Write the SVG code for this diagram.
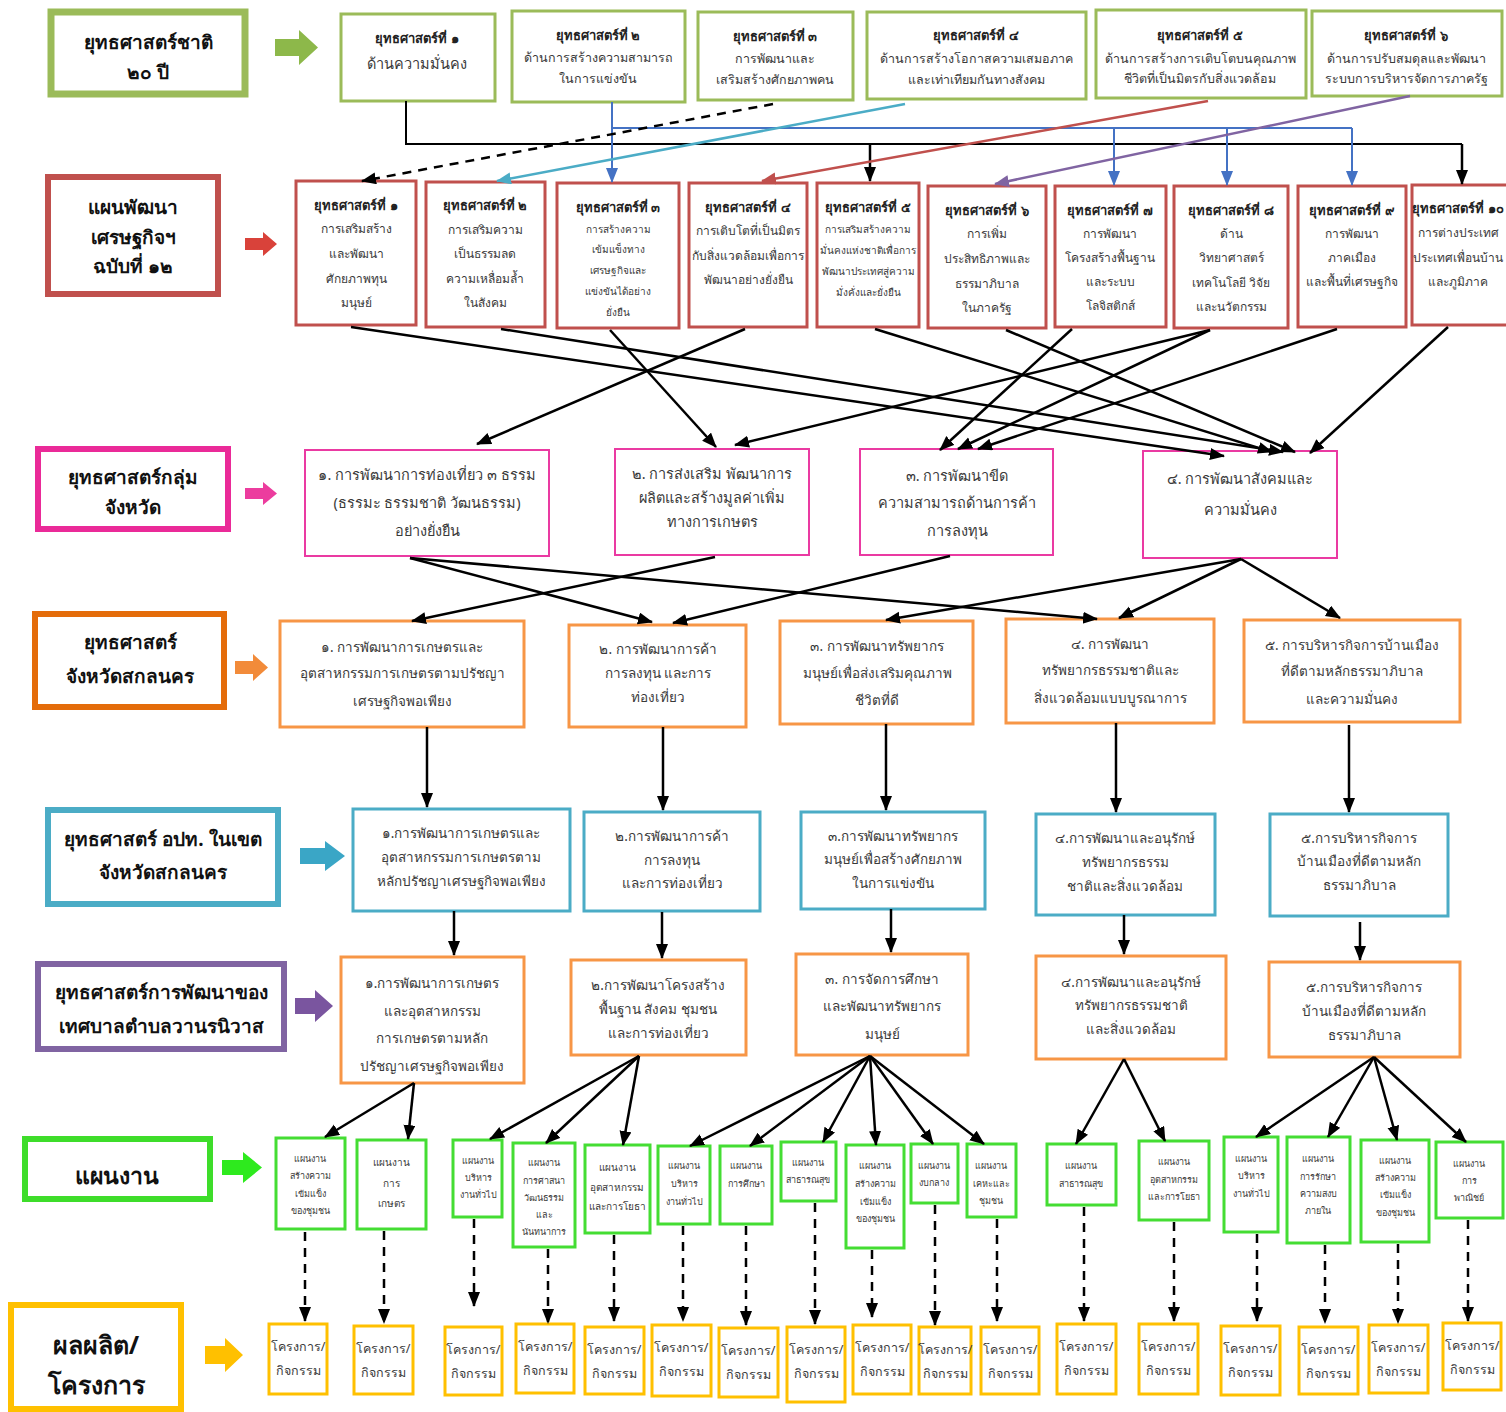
<svg xmlns="http://www.w3.org/2000/svg" width="1506" height="1412" viewBox="0 0 1506 1412">
<style>
text{font-family:"Noto Sans","DejaVu Sans",sans-serif;text-anchor:middle;dominant-baseline:central;fill:#3a3a3a}
.lb{font-size:19px;font-weight:bold;fill:#111}
.tt{font-size:13px;font-weight:bold;fill:#222}
.t1{font-size:12.5px}
.t2{font-size:12px}
.t2s{font-size:10px}
.tp{font-size:14.5px}
.to{font-size:13.5px}
.tg{font-size:9px}
.ty{font-size:12.5px}
.bx{fill:#fff}
.L1{stroke:#9BBB59;stroke-width:7}
.L2{stroke:#C0504D;stroke-width:6}
.L3{stroke:#EA2A98;stroke-width:6}
.L4{stroke:#E46C0A;stroke-width:6}
.L5{stroke:#4BACC6;stroke-width:6}
.L6{stroke:#8064A2;stroke-width:6}
.L7{stroke:#3EDD2A;stroke-width:6}
.L8{stroke:#FFC000;stroke-width:6}
.n1{stroke:#9BBB59;stroke-width:3}
.n2{stroke:#C0504D;stroke-width:3}
.n3{stroke:#EA3AA2;stroke-width:2}
.n4{stroke:#F79646;stroke-width:3}
.n5{stroke:#4BACC6;stroke-width:3}
.n7{stroke:#44DD33;stroke-width:3}
.n8{stroke:#FFC000;stroke-width:3}
.k{stroke:#000;stroke-width:2.5;fill:none;marker-end:url(#ak)}
.kd{stroke:#000;stroke-width:2.5;fill:none;stroke-dasharray:9 7;marker-end:url(#ak)}
.kn{stroke:#000;stroke-width:2;fill:none}
.bl{stroke:#4472C4;stroke-width:2;fill:none}
.bla{stroke:#4472C4;stroke-width:2;fill:none;marker-end:url(#ab)}
</style>
<defs>
<marker id="ak" markerUnits="userSpaceOnUse" markerWidth="16" markerHeight="14" refX="14" refY="6" orient="auto"><path d="M0,0 L15,6 L0,12 z" fill="#000"/></marker>
<marker id="ab" markerUnits="userSpaceOnUse" markerWidth="16" markerHeight="14" refX="14" refY="6" orient="auto"><path d="M0,0 L15,6 L0,12 z" fill="#4472C4"/></marker>
<marker id="ac" markerUnits="userSpaceOnUse" markerWidth="16" markerHeight="14" refX="14" refY="6" orient="auto"><path d="M0,0 L15,6 L0,12 z" fill="#4BACC6"/></marker>
<marker id="ar" markerUnits="userSpaceOnUse" markerWidth="16" markerHeight="14" refX="14" refY="6" orient="auto"><path d="M0,0 L15,6 L0,12 z" fill="#C0504D"/></marker>
<marker id="ap" markerUnits="userSpaceOnUse" markerWidth="16" markerHeight="14" refX="14" refY="6" orient="auto"><path d="M0,0 L15,6 L0,12 z" fill="#8064A2"/></marker>
</defs>

<!-- left level labels -->
<g id="label-national"><rect class="bx L1" x="51" y="12" width="194" height="82"/><text class="lb" x="148" y="42">ยุทธศาสตร์ชาติ</text><text class="lb" x="148" y="72">๒๐ ปี</text></g>
<g id="label-plan12"><rect class="bx L2" x="48" y="177" width="170" height="117"/><text class="lb" x="133" y="207">แผนพัฒนา</text><text class="lb" x="133" y="237">เศรษฐกิจฯ</text><text class="lb" x="133" y="266">ฉบับที่ ๑๒</text></g>
<g id="label-group"><rect class="bx L3" x="38" y="449" width="190" height="80"/><text class="lb" x="133" y="477">ยุทธศาสตร์กลุ่ม</text><text class="lb" x="133" y="507">จังหวัด</text></g>
<g id="label-province"><rect class="bx L4" x="35" y="614" width="189" height="93"/><text class="lb" x="130" y="642">ยุทธศาสตร์</text><text class="lb" x="130" y="676">จังหวัดสกลนคร</text></g>
<g id="label-lao"><rect class="bx L5" x="48" y="810" width="230" height="94"/><text class="lb" x="163" y="839">ยุทธศาสตร์ อปท. ในเขต</text><text class="lb" x="163" y="872">จังหวัดสกลนคร</text></g>
<g id="label-municipal"><rect class="bx L6" x="38" y="964" width="246" height="85"/><text class="lb" x="161" y="992">ยุทธศาสตร์การพัฒนาของ</text><text class="lb" x="161" y="1026">เทศบาลตำบลวานรนิวาส</text></g>
<g id="label-program"><rect class="bx L7" x="25" y="1139" width="185" height="60"/><text class="lb" x="117" y="1175" style="font-size:23px">แผนงาน</text></g>
<g id="label-output"><rect class="bx L8" x="11" y="1305" width="170" height="104"/><text class="lb" x="96" y="1344" style="font-size:25px">ผลผลิต/</text><text class="lb" x="96" y="1384" style="font-size:25px">โครงการ</text></g>

<!-- block arrows -->
<g id="block-arrows">
<polygon points="275,39 299,39 299,30 318,47.5 299,65 299,56 275,56" fill="#8DB84A"/>
<polygon points="245,238 263,238 263,232 277,244 263,256 263,250 245,250" fill="#D9423A"/>
<polygon points="245,488 263,488 263,482 277,493.5 263,505 263,499 245,499" fill="#EC3C9E"/>
<polygon points="235,661 253,661 253,654 268,667.5 253,681 253,674 235,674" fill="#F28B3A"/>
<polygon points="300,848 325,848 325,841 345,856 325,871 325,864 300,864" fill="#3AA6C6"/>
<polygon points="295,998 315,998 315,990 333,1006 315,1022 315,1014 295,1014" fill="#7A559F"/>
<polygon points="222,1160 243,1160 243,1152 262,1167.5 243,1183 243,1175 222,1175" fill="#2EEA1E"/>
<polygon points="205,1346 225,1346 225,1338 243,1355 225,1372 225,1364 205,1364" fill="#FFC000"/>
</g>

<!-- row 1: national strategies -->
<g id="ns1"><rect class="bx n1" x="341" y="14" width="154" height="87"/><text class="tt" x="417" y="38">ยุทธศาสตร์ที่ ๑</text><text class="tp" x="417" y="63">ด้านความมั่นคง</text></g>
<g id="ns2"><rect class="bx n1" x="512" y="11" width="173" height="91"/><text class="tt" x="598" y="35">ยุทธศาสตร์ที่ ๒</text><text class="t1" x="598" y="57">ด้านการสร้างความสามารถ</text><text class="t1" x="598" y="78">ในการแข่งขัน</text></g>
<g id="ns3"><rect class="bx n1" x="698" y="12" width="155" height="88"/><text class="tt" x="775" y="36">ยุทธศาสตร์ที่ ๓</text><text class="t1" x="775" y="58">การพัฒนาและ</text><text class="t1" x="775" y="79">เสริมสร้างศักยภาพคน</text></g>
<g id="ns4"><rect class="bx n1" x="867" y="12" width="219" height="87"/><text class="tt" x="976" y="35">ยุทธศาสตร์ที่ ๔</text><text class="t1" x="976" y="58">ด้านการสร้างโอกาสความเสมอภาค</text><text class="t1" x="976" y="79">และเท่าเทียมกันทางสังคม</text></g>
<g id="ns5"><rect class="bx n1" x="1096" y="10" width="210" height="88"/><text class="tt" x="1200" y="35">ยุทธศาสตร์ที่ ๕</text><text class="t1" x="1200" y="58">ด้านการสร้างการเติบโตบนคุณภาพ</text><text class="t1" x="1200" y="78">ชีวิตที่เป็นมิตรกับสิ่งแวดล้อม</text></g>
<g id="ns6"><rect class="bx n1" x="1312" y="11" width="190" height="85"/><text class="tt" x="1406" y="35">ยุทธศาสตร์ที่ ๖</text><text class="t1" x="1406" y="58">ด้านการปรับสมดุลและพัฒนา</text><text class="t1" x="1406" y="78">ระบบการบริหารจัดการภาครัฐ</text></g>

<!-- row 2: plan 12 strategies -->
<g id="p1"><rect class="bx n2" x="296" y="181" width="120" height="144"/><text class="tt" x="356" y="205">ยุทธศาสตร์ที่ ๑</text><text class="t2" x="356" y="228">การเสริมสร้าง</text><text class="t2" x="356" y="253">และพัฒนา</text><text class="t2" x="356" y="278">ศักยภาพทุน</text><text class="t2" x="356" y="302">มนุษย์</text></g>
<g id="p2"><rect class="bx n2" x="426" y="182" width="119" height="145"/><text class="tt" x="485" y="205">ยุทธศาสตร์ที่ ๒</text><text class="t2" x="485" y="229">การเสริมความ</text><text class="t2" x="485" y="253">เป็นธรรมลด</text><text class="t2" x="485" y="278">ความเหลื่อมล้ำ</text><text class="t2" x="485" y="302">ในสังคม</text></g>
<g id="p3"><rect class="bx n2" x="557" y="183" width="122" height="145"/><text class="tt" x="618" y="207">ยุทธศาสตร์ที่ ๓</text><text class="t2s" x="618" y="229">การสร้างความ</text><text class="t2s" x="618" y="249">เข้มแข็งทาง</text><text class="t2s" x="618" y="270">เศรษฐกิจและ</text><text class="t2s" x="618" y="291">แข่งขันได้อย่าง</text><text class="t2s" x="618" y="312">ยั่งยืน</text></g>
<g id="p4"><rect class="bx n2" x="689" y="183" width="118" height="144"/><text class="tt" x="748" y="207">ยุทธศาสตร์ที่ ๔</text><text class="t2" x="748" y="230">การเติบโตที่เป็นมิตร</text><text class="t2" x="748" y="255">กับสิ่งแวดล้อมเพื่อการ</text><text class="t2" x="748" y="279">พัฒนาอย่างยั่งยืน</text></g>
<g id="p5"><rect class="bx n2" x="817" y="183" width="102" height="144"/><text class="tt" x="868" y="207">ยุทธศาสตร์ที่ ๕</text><text class="t2s" x="868" y="229">การเสริมสร้างความ</text><text class="t2s" x="868" y="250">มั่นคงแห่งชาติเพื่อการ</text><text class="t2s" x="868" y="271">พัฒนาประเทศสู่ความ</text><text class="t2s" x="868" y="292">มั่งคั่งและยั่งยืน</text></g>
<g id="p6"><rect class="bx n2" x="928" y="186" width="118" height="142"/><text class="tt" x="987" y="210">ยุทธศาสตร์ที่ ๖</text><text class="t2" x="987" y="233">การเพิ่ม</text><text class="t2" x="987" y="258">ประสิทธิภาพและ</text><text class="t2" x="987" y="283">ธรรมาภิบาล</text><text class="t2" x="987" y="307">ในภาครัฐ</text></g>
<g id="p7"><rect class="bx n2" x="1055" y="186" width="111" height="141"/><text class="tt" x="1110" y="210">ยุทธศาสตร์ที่ ๗</text><text class="t2" x="1110" y="233">การพัฒนา</text><text class="t2" x="1110" y="257">โครงสร้างพื้นฐาน</text><text class="t2" x="1110" y="281">และระบบ</text><text class="t2" x="1110" y="305">โลจิสติกส์</text></g>
<g id="p8"><rect class="bx n2" x="1174" y="186" width="114" height="142"/><text class="tt" x="1231" y="210">ยุทธศาสตร์ที่ ๘</text><text class="t2" x="1231" y="233">ด้าน</text><text class="t2" x="1231" y="257">วิทยาศาสตร์</text><text class="t2" x="1231" y="282">เทคโนโลยี วิจัย</text><text class="t2" x="1231" y="306">และนวัตกรรม</text></g>
<g id="p9"><rect class="bx n2" x="1298" y="186" width="108" height="141"/><text class="tt" x="1352" y="210">ยุทธศาสตร์ที่ ๙</text><text class="t2" x="1352" y="233">การพัฒนา</text><text class="t2" x="1352" y="257">ภาคเมือง</text><text class="t2" x="1352" y="281">และพื้นที่เศรษฐกิจ</text></g>
<g id="p10"><rect class="bx n2" x="1412" y="185" width="100" height="140"/><text class="tt" x="1458" y="208">ยุทธศาสตร์ที่ ๑๐</text><text class="t2" x="1458" y="232">การต่างประเทศ</text><text class="t2" x="1458" y="257">ประเทศเพื่อนบ้าน</text><text class="t2" x="1458" y="281">และภูมิภาค</text></g>

<!-- row 3: provincial group -->
<g id="g1"><rect class="bx n3" x="305" y="450" width="244" height="106"/><text class="tp" x="427" y="474">๑. การพัฒนาการท่องเที่ยว ๓ ธรรม</text><text class="tp" x="427" y="502">(ธรรมะ ธรรมชาติ วัฒนธรรม)</text><text class="tp" x="427" y="530">อย่างยั่งยืน</text></g>
<g id="g2"><rect class="bx n3" x="615" y="449" width="194" height="106"/><text class="tp" x="712" y="473">๒. การส่งเสริม พัฒนาการ</text><text class="tp" x="712" y="497">ผลิตและสร้างมูลค่าเพิ่ม</text><text class="tp" x="712" y="521">ทางการเกษตร</text></g>
<g id="g3"><rect class="bx n3" x="860" y="449" width="193" height="106"/><text class="tp" x="957" y="475">๓. การพัฒนาขีด</text><text class="tp" x="957" y="502">ความสามารถด้านการค้า</text><text class="tp" x="957" y="530">การลงทุน</text></g>
<g id="g4"><rect class="bx n3" x="1143" y="451" width="194" height="107"/><text class="tp" x="1240" y="478">๔. การพัฒนาสังคมและ</text><text class="tp" x="1240" y="509">ความมั่นคง</text></g>

<!-- row 4: province -->
<g id="o1"><rect class="bx n4" x="280" y="621" width="244" height="106"/><text class="to" x="402" y="647">๑. การพัฒนาการเกษตรและ</text><text class="to" x="402" y="673">อุตสาหกรรมการเกษตรตามปรัชญา</text><text class="to" x="402" y="701">เศรษฐกิจพอเพียง</text></g>
<g id="o2"><rect class="bx n4" x="569" y="625" width="177" height="102"/><text class="to" x="658" y="649">๒. การพัฒนาการค้า</text><text class="to" x="658" y="673">การลงทุน และการ</text><text class="to" x="658" y="697">ท่องเที่ยว</text></g>
<g id="o3"><rect class="bx n4" x="780" y="621" width="193" height="103"/><text class="to" x="877" y="646">๓. การพัฒนาทรัพยากร</text><text class="to" x="877" y="673">มนุษย์เพื่อส่งเสริมคุณภาพ</text><text class="to" x="877" y="700">ชีวิตที่ดี</text></g>
<g id="o4"><rect class="bx n4" x="1006" y="619" width="208" height="104"/><text class="to" x="1110" y="644">๔. การพัฒนา</text><text class="to" x="1110" y="670">ทรัพยากรธรรมชาติและ</text><text class="to" x="1110" y="698">สิ่งแวดล้อมแบบบูรณาการ</text></g>
<g id="o5"><rect class="bx n4" x="1244" y="620" width="216" height="102"/><text class="to" x="1352" y="645">๕. การบริหารกิจการบ้านเมือง</text><text class="to" x="1352" y="671">ที่ดีตามหลักธรรมาภิบาล</text><text class="to" x="1352" y="699">และความมั่นคง</text></g>

<!-- row 5: local admin -->
<g id="b1"><rect class="bx n5" x="353" y="809" width="217" height="102"/><text class="to" x="461" y="833">๑.การพัฒนาการเกษตรและ</text><text class="to" x="461" y="857">อุตสาหกรรมการเกษตรตาม</text><text class="to" x="461" y="881">หลักปรัชญาเศรษฐกิจพอเพียง</text></g>
<g id="b2"><rect class="bx n5" x="584" y="812" width="176" height="99"/><text class="to" x="672" y="836">๒.การพัฒนาการค้า</text><text class="to" x="672" y="860">การลงทุน</text><text class="to" x="672" y="883">และการท่องเที่ยว</text></g>
<g id="b3"><rect class="bx n5" x="801" y="812" width="184" height="97"/><text class="to" x="893" y="836">๓.การพัฒนาทรัพยากร</text><text class="to" x="893" y="859">มนุษย์เพื่อสร้างศักยภาพ</text><text class="to" x="893" y="883">ในการแข่งขัน</text></g>
<g id="b4"><rect class="bx n5" x="1036" y="814" width="179" height="101"/><text class="to" x="1125" y="838">๔.การพัฒนาและอนุรักษ์</text><text class="to" x="1125" y="862">ทรัพยากรธรรม</text><text class="to" x="1125" y="886">ชาติและสิ่งแวดล้อม</text></g>
<g id="b5"><rect class="bx n5" x="1270" y="814" width="178" height="102"/><text class="to" x="1359" y="838">๕.การบริหารกิจการ</text><text class="to" x="1359" y="861">บ้านเมืองที่ดีตามหลัก</text><text class="to" x="1359" y="885">ธรรมาภิบาล</text></g>

<!-- row 6: municipality -->
<g id="m1"><rect class="bx n4" x="341" y="957" width="183" height="126"/><text class="to" x="432" y="983">๑.การพัฒนาการเกษตร</text><text class="to" x="432" y="1011">และอุตสาหกรรม</text><text class="to" x="432" y="1038">การเกษตรตามหลัก</text><text class="to" x="432" y="1066">ปรัชญาเศรษฐกิจพอเพียง</text></g>
<g id="m2"><rect class="bx n4" x="571" y="960" width="175" height="95"/><text class="to" x="658" y="985">๒.การพัฒนาโครงสร้าง</text><text class="to" x="658" y="1009">พื้นฐาน สังคม ชุมชน</text><text class="to" x="658" y="1033">และการท่องเที่ยว</text></g>
<g id="m3"><rect class="bx n4" x="796" y="954" width="172" height="101"/><text class="to" x="882" y="979">๓. การจัดการศึกษา</text><text class="to" x="882" y="1006">และพัฒนาทรัพยากร</text><text class="to" x="882" y="1034">มนุษย์</text></g>
<g id="m4"><rect class="bx n4" x="1036" y="956" width="190" height="103"/><text class="to" x="1131" y="982">๔.การพัฒนาและอนุรักษ์</text><text class="to" x="1131" y="1005">ทรัพยากรธรรมชาติ</text><text class="to" x="1131" y="1029">และสิ่งแวดล้อม</text></g>
<g id="m5"><rect class="bx n4" x="1269" y="962" width="191" height="95"/><text class="to" x="1364" y="987">๕.การบริหารกิจการ</text><text class="to" x="1364" y="1011">บ้านเมืองที่ดีตามหลัก</text><text class="to" x="1364" y="1035">ธรรมาภิบาล</text></g>

<!-- row 7: programmes -->
<g id="w1"><rect class="bx n7" x="276" y="1138" width="69" height="91"/><text class="tg" x="310" y="1158">แผนงาน</text><text class="tg" x="310" y="1175">สร้างความ</text><text class="tg" x="310" y="1193">เข้มแข็ง</text><text class="tg" x="310" y="1210">ของชุมชน</text></g>
<g id="w2"><rect class="bx n7" x="357" y="1140" width="69" height="89"/><text class="tg" x="391" y="1162" style="font-size:10px">แผนงาน</text><text class="tg" x="391" y="1183" style="font-size:10px">การ</text><text class="tg" x="391" y="1203" style="font-size:10px">เกษตร</text></g>
<g id="w3"><rect class="bx n7" x="453" y="1140" width="49" height="77"/><text class="tg" x="478" y="1160">แผนงาน</text><text class="tg" x="478" y="1177">บริหาร</text><text class="tg" x="478" y="1194">งานทั่วไป</text></g>
<g id="w4"><rect class="bx n7" x="513" y="1143" width="62" height="104"/><text class="tg" x="544" y="1162">แผนงาน</text><text class="tg" x="544" y="1180">การศาสนา</text><text class="tg" x="544" y="1197">วัฒนธรรม</text><text class="tg" x="544" y="1214">และ</text><text class="tg" x="544" y="1231">นันทนาการ</text></g>
<g id="w5"><rect class="bx n7" x="585" y="1145" width="65" height="88"/><text class="tg" x="617" y="1167" style="font-size:10px">แผนงาน</text><text class="tg" x="617" y="1187" style="font-size:10px">อุตสาหกรรม</text><text class="tg" x="617" y="1206" style="font-size:10px">และการโยธา</text></g>
<g id="w6"><rect class="bx n7" x="658" y="1146" width="52" height="78"/><text class="tg" x="684" y="1165">แผนงาน</text><text class="tg" x="684" y="1183">บริหาร</text><text class="tg" x="684" y="1201">งานทั่วไป</text></g>
<g id="w7"><rect class="bx n7" x="720" y="1146" width="52" height="78"/><text class="tg" x="746" y="1165">แผนงาน</text><text class="tg" x="746" y="1183">การศึกษา</text></g>
<g id="w8"><rect class="bx n7" x="781" y="1142" width="55" height="59"/><text class="tg" x="808" y="1162">แผนงาน</text><text class="tg" x="808" y="1179">สาธารณสุข</text></g>
<g id="w9"><rect class="bx n7" x="846" y="1145" width="58" height="103"/><text class="tg" x="875" y="1165">แผนงาน</text><text class="tg" x="875" y="1183">สร้างความ</text><text class="tg" x="875" y="1201">เข้มแข็ง</text><text class="tg" x="875" y="1218">ของชุมชน</text></g>
<g id="w10"><rect class="bx n7" x="911" y="1144" width="47" height="59"/><text class="tg" x="934" y="1165">แผนงาน</text><text class="tg" x="934" y="1182">งบกลาง</text></g>
<g id="w11"><rect class="bx n7" x="967" y="1144" width="49" height="73"/><text class="tg" x="991" y="1165">แผนงาน</text><text class="tg" x="991" y="1183">เคหะและ</text><text class="tg" x="991" y="1200">ชุมชน</text></g>
<g id="w12"><rect class="bx n7" x="1047" y="1144" width="69" height="61"/><text class="tg" x="1081" y="1165">แผนงาน</text><text class="tg" x="1081" y="1183">สาธารณสุข</text></g>
<g id="w13"><rect class="bx n7" x="1139" y="1141" width="70" height="79"/><text class="tg" x="1174" y="1161">แผนงาน</text><text class="tg" x="1174" y="1179">อุตสาหกรรม</text><text class="tg" x="1174" y="1196">และการโยธา</text></g>
<g id="w14"><rect class="bx n7" x="1224" y="1137" width="54" height="95"/><text class="tg" x="1251" y="1158">แผนงาน</text><text class="tg" x="1251" y="1175">บริหาร</text><text class="tg" x="1251" y="1193">งานทั่วไป</text></g>
<g id="w15"><rect class="bx n7" x="1287" y="1137" width="63" height="106"/><text class="tg" x="1318" y="1158">แผนงาน</text><text class="tg" x="1318" y="1176">การรักษา</text><text class="tg" x="1318" y="1193">ความสงบ</text><text class="tg" x="1318" y="1210">ภายใน</text></g>
<g id="w16"><rect class="bx n7" x="1361" y="1140" width="68" height="102"/><text class="tg" x="1395" y="1160">แผนงาน</text><text class="tg" x="1395" y="1177">สร้างความ</text><text class="tg" x="1395" y="1194">เข้มแข็ง</text><text class="tg" x="1395" y="1212">ของชุมชน</text></g>
<g id="w17"><rect class="bx n7" x="1436" y="1142" width="67" height="76"/><text class="tg" x="1469" y="1163">แผนงาน</text><text class="tg" x="1469" y="1180">การ</text><text class="tg" x="1469" y="1197">พาณิชย์</text></g>

<!-- row 8: projects -->
<g id="y1"><rect class="bx n8" x="269" y="1324" width="58" height="70"/><text class="ty" x="298" y="1346">โครงการ/</text><text class="ty" x="298" y="1370">กิจกรรม</text></g>
<g id="y2"><rect class="bx n8" x="354" y="1326" width="59" height="68"/><text class="ty" x="383" y="1348">โครงการ/</text><text class="ty" x="383" y="1372">กิจกรรม</text></g>
<g id="y3"><rect class="bx n8" x="445" y="1327" width="57" height="68"/><text class="ty" x="473" y="1349">โครงการ/</text><text class="ty" x="473" y="1373">กิจกรรม</text></g>
<g id="y4"><rect class="bx n8" x="516" y="1324" width="58" height="69"/><text class="ty" x="545" y="1346">โครงการ/</text><text class="ty" x="545" y="1370">กิจกรรม</text></g>
<g id="y5"><rect class="bx n8" x="585" y="1327" width="59" height="67"/><text class="ty" x="614" y="1349">โครงการ/</text><text class="ty" x="614" y="1373">กิจกรรม</text></g>
<g id="y6"><rect class="bx n8" x="652" y="1325" width="59" height="71"/><text class="ty" x="681" y="1347">โครงการ/</text><text class="ty" x="681" y="1371">กิจกรรม</text></g>
<g id="y7"><rect class="bx n8" x="719" y="1328" width="59" height="69"/><text class="ty" x="748" y="1350">โครงการ/</text><text class="ty" x="748" y="1374">กิจกรรม</text></g>
<g id="y8"><rect class="bx n8" x="787" y="1327" width="58" height="75"/><text class="ty" x="816" y="1349">โครงการ/</text><text class="ty" x="816" y="1373">กิจกรรม</text></g>
<g id="y9"><rect class="bx n8" x="853" y="1325" width="58" height="69"/><text class="ty" x="882" y="1347">โครงการ/</text><text class="ty" x="882" y="1371">กิจกรรม</text></g>
<g id="y10"><rect class="bx n8" x="919" y="1327" width="52" height="67"/><text class="ty" x="945" y="1349">โครงการ/</text><text class="ty" x="945" y="1373">กิจกรรม</text></g>
<g id="y11"><rect class="bx n8" x="981" y="1327" width="58" height="67"/><text class="ty" x="1010" y="1349">โครงการ/</text><text class="ty" x="1010" y="1373">กิจกรรม</text></g>
<g id="y12"><rect class="bx n8" x="1057" y="1324" width="59" height="70"/><text class="ty" x="1086" y="1346">โครงการ/</text><text class="ty" x="1086" y="1370">กิจกรรม</text></g>
<g id="y13"><rect class="bx n8" x="1139" y="1324" width="59" height="70"/><text class="ty" x="1168" y="1346">โครงการ/</text><text class="ty" x="1168" y="1370">กิจกรรม</text></g>
<g id="y14"><rect class="bx n8" x="1221" y="1326" width="59" height="69"/><text class="ty" x="1250" y="1348">โครงการ/</text><text class="ty" x="1250" y="1372">กิจกรรม</text></g>
<g id="y15"><rect class="bx n8" x="1299" y="1327" width="59" height="67"/><text class="ty" x="1328" y="1349">โครงการ/</text><text class="ty" x="1328" y="1373">กิจกรรม</text></g>
<g id="y16"><rect class="bx n8" x="1369" y="1325" width="59" height="68"/><text class="ty" x="1398" y="1347">โครงการ/</text><text class="ty" x="1398" y="1371">กิจกรรม</text></g>
<g id="y17"><rect class="bx n8" x="1443" y="1323" width="58" height="67"/><text class="ty" x="1472" y="1345">โครงการ/</text><text class="ty" x="1472" y="1369">กิจกรรม</text></g>

<!-- connectors -->
<g id="connectors">
<!-- national -> plan -->
<polyline class="kn" points="406,101 406,144 1462,144"/>
<line class="k" x1="870" y1="144" x2="870" y2="181"/>
<line class="k" x1="1462" y1="144" x2="1462" y2="184"/>
<line class="bla" x1="612" y1="102" x2="612" y2="182"/>
<line class="bl" x1="612" y1="128" x2="1352" y2="128"/>
<line class="bla" x1="1114" y1="128" x2="1114" y2="185"/>
<line class="bla" x1="1227" y1="128" x2="1227" y2="185"/>
<line class="bla" x1="1352" y1="128" x2="1352" y2="185"/>
<line class="kd" x1="773" y1="104" x2="362" y2="181"/>
<line x1="905" y1="104" x2="497" y2="181" stroke="#4BACC6" stroke-width="2.5" marker-end="url(#ac)"/>
<line x1="1208" y1="101" x2="762" y2="181" stroke="#C0504D" stroke-width="2.5" marker-end="url(#ar)"/>
<line x1="1410" y1="96" x2="995" y2="184" stroke="#8064A2" stroke-width="2.5" marker-end="url(#ap)"/>
<!-- plan -> provincial group -->
<line class="k" x1="351" y1="327" x2="1224" y2="456"/>
<line class="k" x1="501" y1="329" x2="1283" y2="452"/>
<line class="k" x1="610" y1="330" x2="716" y2="447"/>
<line class="k" x1="745" y1="329" x2="477" y2="444"/>
<line class="k" x1="875" y1="329" x2="1272" y2="452"/>
<line class="k" x1="1006" y1="330" x2="1295" y2="452"/>
<line class="k" x1="1072" y1="329" x2="940" y2="450"/>
<line class="k" x1="1210" y1="330" x2="735" y2="445"/>
<line class="k" x1="1210" y1="330" x2="958" y2="449"/>
<line class="k" x1="1337" y1="329" x2="978" y2="449"/>
<line class="k" x1="1448" y1="327" x2="1310" y2="453"/>
<!-- provincial group -> province -->
<line class="k" x1="410" y1="558" x2="652" y2="622"/>
<line class="k" x1="410" y1="558" x2="1097" y2="619"/>
<line class="k" x1="715" y1="557" x2="412" y2="621"/>
<line class="k" x1="950" y1="556" x2="673" y2="623"/>
<line class="k" x1="1241" y1="559" x2="886" y2="620"/>
<line class="k" x1="1241" y1="559" x2="1119" y2="618"/>
<line class="k" x1="1241" y1="559" x2="1340" y2="618"/>
<!-- province -> local -->
<line class="k" x1="427" y1="727" x2="427" y2="807"/>
<line class="k" x1="663" y1="727" x2="663" y2="810"/>
<line class="k" x1="886" y1="724" x2="886" y2="810"/>
<line class="k" x1="1116" y1="723" x2="1116" y2="812"/>
<line class="k" x1="1349" y1="725" x2="1349" y2="812"/>
<!-- local -> municipality -->
<line class="k" x1="454" y1="911" x2="454" y2="955"/>
<line class="k" x1="662" y1="912" x2="662" y2="958"/>
<line class="k" x1="891" y1="909" x2="891" y2="952"/>
<line class="k" x1="1124" y1="915" x2="1124" y2="954"/>
<line class="k" x1="1360" y1="922" x2="1360" y2="960"/>
<!-- municipality -> programmes -->
<line class="k" x1="414" y1="1083" x2="325" y2="1137"/>
<line class="k" x1="414" y1="1083" x2="408" y2="1139"/>
<line class="k" x1="639" y1="1056" x2="490" y2="1139"/>
<line class="k" x1="639" y1="1056" x2="546" y2="1143"/>
<line class="k" x1="639" y1="1056" x2="623" y2="1145"/>
<line class="k" x1="870" y1="1056" x2="690" y2="1146"/>
<line class="k" x1="870" y1="1056" x2="750" y2="1146"/>
<line class="k" x1="870" y1="1056" x2="823" y2="1142"/>
<line class="k" x1="870" y1="1056" x2="876" y2="1145"/>
<line class="k" x1="870" y1="1056" x2="933" y2="1144"/>
<line class="k" x1="870" y1="1056" x2="984" y2="1144"/>
<line class="k" x1="1124" y1="1059" x2="1076" y2="1144"/>
<line class="k" x1="1124" y1="1059" x2="1165" y2="1141"/>
<line class="k" x1="1374" y1="1057" x2="1256" y2="1137"/>
<line class="k" x1="1374" y1="1057" x2="1328" y2="1137"/>
<line class="k" x1="1374" y1="1057" x2="1397" y2="1140"/>
<line class="k" x1="1374" y1="1057" x2="1466" y2="1142"/>
<!-- programmes -> projects (dashed) -->
<line class="kd" x1="305" y1="1232" x2="305" y2="1321"/>
<line class="kd" x1="384" y1="1231" x2="384" y2="1323"/>
<line class="kd" x1="474" y1="1219" x2="474" y2="1306"/>
<line class="kd" x1="548" y1="1249" x2="548" y2="1323"/>
<line class="kd" x1="614" y1="1235" x2="614" y2="1321"/>
<line class="kd" x1="683" y1="1226" x2="683" y2="1321"/>
<line class="kd" x1="746" y1="1226" x2="746" y2="1325"/>
<line class="kd" x1="815" y1="1203" x2="815" y2="1324"/>
<line class="kd" x1="872" y1="1250" x2="872" y2="1317"/>
<line class="kd" x1="935" y1="1205" x2="935" y2="1325"/>
<line class="kd" x1="997" y1="1219" x2="997" y2="1321"/>
<line class="kd" x1="1084" y1="1207" x2="1084" y2="1321"/>
<line class="kd" x1="1174" y1="1222" x2="1174" y2="1321"/>
<line class="kd" x1="1257" y1="1234" x2="1257" y2="1321"/>
<line class="kd" x1="1325" y1="1245" x2="1325" y2="1323"/>
<line class="kd" x1="1398" y1="1244" x2="1398" y2="1323"/>
<line class="kd" x1="1468" y1="1220" x2="1468" y2="1321"/>
</g>
</svg>
